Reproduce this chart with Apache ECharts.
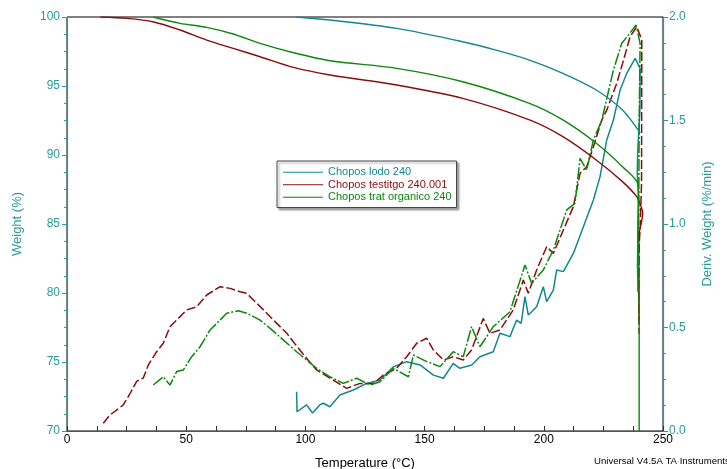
<!DOCTYPE html>
<html><head><meta charset="utf-8">
<script src="https://cdn.jsdelivr.net/npm/echarts@6/dist/echarts.min.js"></script>
<style>html,body{margin:0;padding:0;background:#fff}#c{width:727px;height:469px}</style>
</head><body><div id="c"></div>
<script>
// ---- data ----
const xTicks = [0, 50, 100, 150, 200, 250];
const weightTicks = [70, 75, 80, 85, 90, 95, 100];
const derivTicks = ['0.0', '0.5', '1.0', '1.5', '2.0'];

// Weight (%) curves
const lodoWT = [96.3, 110.3, 138.3, 166, 180, 194, 208, 222, 233, 240.4];
const lodoW  = [100, 99.78, 99.18, 98.21, 97.6, 96.88, 95.92, 94.71, 93.26, 91.6];
const testWT = [14, 25, 36, 47.4, 58.6, 69.7, 81, 95, 110.3, 138.3, 166, 194, 208, 222, 233, 239, 240.5, 241.5, 240.8, 240, 239.8, 240];
const testW  = [100, 99.9, 99.66, 99.06, 98.33, 97.73, 97.12, 96.35, 95.8, 95.07, 94.1, 92.54, 91.33, 89.64, 88.07, 86.98, 86.4, 85.8, 85.0, 84.3, 82, 78];
const tratWT = [36, 47.4, 58.6, 69.7, 81, 95, 110.3, 138.3, 166, 194, 208, 222, 233, 239.6, 239.8, 239.5, 239.8, 240, 240, 240];
const tratW  = [100, 99.54, 99.25, 98.77, 98.09, 97.41, 96.83, 96.28, 95.31, 93.74, 92.54, 90.85, 89.15, 87.83, 86.5, 84.5, 82, 78, 74, 69];

// Deriv. Weight (%/min) curves
const lodoDT = [96.3, 96.5, 100.5, 103, 106, 107.5, 110.3, 114.5, 120.1, 125.7, 131.3, 136.9, 142.5, 148.1, 153.7, 157.9, 162, 164.8, 169.8, 173.2, 178.8, 181.6, 185.8, 188.6, 190.5, 192.1, 193.5, 197, 199.8, 201.2, 204, 205.4, 208.2, 212.4, 216.6, 220.8, 223.6, 226.4, 229.2, 232, 234.8, 238.3, 240.4, 240.3, 239.4, 239.2, 239.6, 239.5, 239.3, 239.5];
const lodoD  = [0.19, 0.093, 0.126, 0.087, 0.126, 0.134, 0.117, 0.174, 0.198, 0.23, 0.246, 0.31, 0.335, 0.319, 0.27, 0.255, 0.327, 0.303, 0.319, 0.359, 0.383, 0.472, 0.456, 0.536, 0.52, 0.649, 0.56, 0.60, 0.697, 0.625, 0.681, 0.778, 0.77, 0.858, 0.987, 1.116, 1.229, 1.406, 1.502, 1.647, 1.728, 1.80, 1.752, 1.55, 1.35, 1.25, 1.15, 0.95, 0.8, 0.67];
const testDT = [15.2, 18, 23.6, 26.4, 29.2, 32, 34.1, 37.6, 40.4, 43.2, 46, 50.2, 54.4, 58.6, 64.2, 68.4, 72.6, 75.4, 79.6, 83.8, 88, 92.2, 94.9, 100.5, 104.7, 111.7, 117.3, 122.9, 128.5, 132.7, 138.3, 142.5, 146.7, 150.9, 153.7, 157.9, 162, 166.2, 169.7, 174.6, 177.4, 181.6, 187.2, 191.4, 193.5, 197, 201.2, 204, 208.2, 212.4, 215.2, 218, 220.8, 224.3, 226.4, 230.6, 233.4, 236.2, 239, 241.1, 241, 240.5, 240, 239.8, 240];
const testD  = [0.037, 0.077, 0.126, 0.18, 0.24, 0.256, 0.319, 0.383, 0.424, 0.504, 0.536, 0.585, 0.60, 0.657, 0.697, 0.689, 0.673, 0.665, 0.617, 0.569, 0.52, 0.472, 0.431, 0.351, 0.295, 0.246, 0.206, 0.23, 0.23, 0.27, 0.303, 0.359, 0.424, 0.448, 0.391, 0.343, 0.359, 0.343, 0.391, 0.544, 0.472, 0.488, 0.585, 0.729, 0.665, 0.778, 0.89, 0.858, 0.971, 1.084, 1.245, 1.277, 1.373, 1.502, 1.55, 1.68, 1.79, 1.905, 1.953, 1.89, 1.2, 1.0, 0.9, 0.6, 0.47];
const tratDT = [36.2, 40.4, 43.2, 46, 48.8, 52.3, 55.8, 60, 62.8, 67, 71.9, 75.4, 81, 85.2, 90.7, 96.3, 100.5, 104.7, 110.3, 115.9, 121.5, 127.1, 131.3, 136.9, 143.2, 145.3, 150.9, 156.5, 162, 166.2, 169.7, 173.2, 178.8, 185.8, 192.1, 194.9, 199.8, 204, 209.6, 213.1, 215.2, 218, 220.8, 224.3, 229.2, 232.7, 235.5, 238.7, 240.4, 240, 239.8, 239.5, 239.8];
const tratD  = [0.222, 0.262, 0.222, 0.287, 0.295, 0.359, 0.407, 0.488, 0.52, 0.569, 0.581, 0.569, 0.536, 0.496, 0.44, 0.383, 0.343, 0.303, 0.262, 0.23, 0.255, 0.222, 0.238, 0.303, 0.262, 0.367, 0.335, 0.311, 0.383, 0.359, 0.504, 0.407, 0.504, 0.576, 0.802, 0.713, 0.778, 0.874, 1.068, 1.1, 1.317, 1.26, 1.406, 1.50, 1.744, 1.873, 1.913, 1.961, 1.873, 1.5, 1.0, 0.9, 0.7];

const names = ['Chopos lodo 240', 'Chopos testitgo 240.001', 'Chopos trat organico 240'];
const colors = ['#13878f', '#8b0c0c', '#0b880b'];
const TEAL = '#2a9a9c';

const zip = (a, b) => a.map((v, i) => [v, b[i]]);
const FONT = '"Liberation Sans", Arial, sans-serif';

function wSeries(i, T, W) {
  return { name: names[i], type: 'line', xAxisIndex: 0, yAxisIndex: 0, data: zip(T, W),
    showSymbol: false, smooth: 0.3, lineStyle: { color: colors[i], width: 1.4 }, itemStyle: { color: colors[i] }, z: 3 };
}
function dSeries(i, T, D, type) {
  return { name: names[i], type: 'line', xAxisIndex: 0, yAxisIndex: 1, data: zip(T, D),
    showSymbol: false, lineStyle: { color: colors[i], width: 1.5, type: type }, itemStyle: { color: colors[i] }, z: 2 };
}

const chart = echarts.init(document.getElementById('c'), null, { renderer: 'canvas' });
chart.setOption({
  animation: false,
  backgroundColor: '#fff',
  textStyle: { fontFamily: FONT },
  grid: { left: 67, right: 64, top: 17, bottom: 38, outerBoundsMode: 'none', containLabel: false,
    show: true, borderColor: '#000', borderWidth: 1, backgroundColor: 'transparent' },
  legend: {
    orient: 'vertical', left: 277, top: 161,
    data: names.map((n, i) => ({ name: n, textStyle: { color: colors[i] } })),
    icon: 'rect', itemWidth: 40, itemHeight: 1, itemGap: 0,
    textStyle: { fontSize: 11, fontFamily: FONT, lineHeight: 12.5 },
    backgroundColor: '#fff', borderColor: '#444', borderWidth: 1,
    padding: [5, 5, 4, 6],
    shadowColor: 'rgba(0,0,0,0.35)', shadowBlur: 2, shadowOffsetX: 2, shadowOffsetY: 2,
    selectedMode: false
  },
  xAxis: {
    type: 'value', min: 0, max: 250, interval: 50,
    name: 'Temperature (°C)', nameLocation: 'middle', nameGap: 26,
    nameTextStyle: { color: '#000', fontSize: 13, fontFamily: FONT },
    axisLine: { lineStyle: { color: '#555', width: 1 } },
    axisTick: { inside: true, length: 5, lineStyle: { color: '#333' } },
    minorTick: { show: true, splitNumber: 4, length: 5, lineStyle: { color: '#333' } },
    axisLabel: { color: '#000', fontSize: 12, margin: 3, formatter: v => xTicks.includes(v) ? String(v) : '' },
    splitLine: { show: false }
  },
  yAxis: [{
    type: 'value', min: 70, max: 100, interval: 5, position: 'left',
    name: 'Weight (%)', nameLocation: 'middle', nameGap: 43,
    nameTextStyle: { color: TEAL, fontSize: 13, fontFamily: FONT },
    axisLine: { show: true, lineStyle: { color: TEAL, width: 1.2 } },
    axisTick: { show: true, length: 5, lineStyle: { color: TEAL } },
    minorTick: { show: true, splitNumber: 4, length: 3, lineStyle: { color: TEAL } },
    axisLabel: { color: TEAL, fontSize: 12, margin: 7, formatter: v => weightTicks.includes(v) ? String(v) : '' },
    splitLine: { show: false }
  }, {
    type: 'value', min: 0, max: 2, interval: 0.5, position: 'right',
    name: 'Deriv. Weight (%/min)', nameLocation: 'middle', nameGap: 38,
    nameTextStyle: { color: TEAL, fontSize: 13, fontFamily: FONT },
    axisLine: { show: true, lineStyle: { color: TEAL, width: 1.2 } },
    axisTick: { show: true, length: 5, lineStyle: { color: TEAL } },
    minorTick: { show: true, splitNumber: 4, length: 3, lineStyle: { color: TEAL } },
    axisLabel: { color: TEAL, fontSize: 12, margin: 6, formatter: v => derivTicks[Math.round(v / 0.5)] },
    splitLine: { show: false }
  }],
  graphic: [{
    type: 'text', left: 594, top: 456,
    style: { text: 'Universal V4.5A TA Instruments', fill: '#000', font: '9.6px ' + FONT }
  }],
  series: [
    dSeries(0, lodoDT, lodoD, 'solid'),
    dSeries(1, testDT, testD, [9, 3]),
    dSeries(2, tratDT, tratD, [12, 2, 2, 2]),
    wSeries(0, lodoWT, lodoW),
    wSeries(1, testWT, testW),
    wSeries(2, tratWT, tratW)
  ]
});
</script></body></html>
